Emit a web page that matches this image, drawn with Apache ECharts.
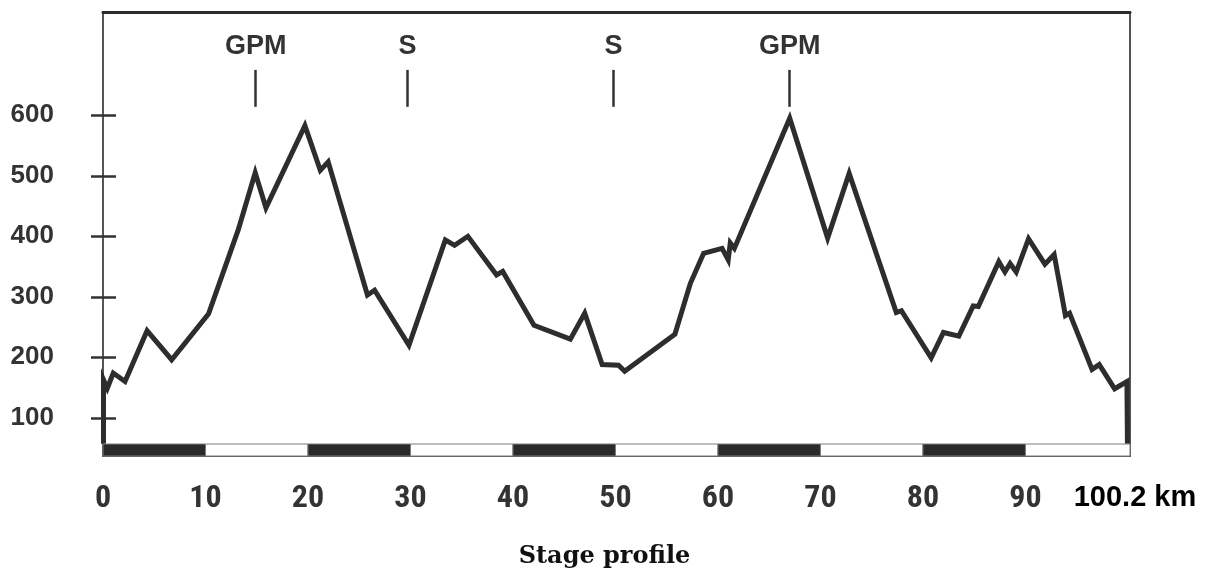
<!DOCTYPE html>
<html>
<head>
<meta charset="utf-8">
<script src="https://cdn.jsdelivr.net/npm/echarts@6/dist/echarts.min.js"></script>
<style>
html,body{margin:0;padding:0;background:#fff;}
#chart{width:1209px;height:576px;}
</style>
</head>
<body>
<div id="chart"></div>
<script>
// ---- data ----
const distanceKm = [0.05, 0.05, 0.42, 1.0, 2.15, 4.3, 6.7, 10.3, 13.2, 14.85, 15.9, 19.7, 21.2, 21.97,
  25.8, 26.5, 29.85, 33.4, 34.3, 35.6, 38.4, 39.0, 42.05, 45.6, 47.0, 48.7, 50.3, 50.9,
  55.8, 57.3, 58.6, 60.4, 61.0, 61.2, 61.6, 67.0, 70.7, 72.8, 77.4, 77.9,
  80.8, 82.0, 83.5, 84.9, 85.4, 87.4, 88.0, 88.5, 89.1, 90.3, 91.9, 92.8, 93.9, 94.3,
  96.5, 97.2, 98.7, 99.9, 99.95, 99.95];
const elevationM = [57, 163, 149, 174, 160, 244, 196, 272, 411, 505, 447, 583, 509, 523,
  303, 311, 220, 394, 385, 400, 336, 342, 253, 230, 273, 188, 187, 177,
  238, 322, 372, 380, 361, 389, 380, 595, 397, 504, 274, 277,
  199, 241, 235, 285, 284, 358, 341, 355, 341, 396, 354, 370, 269, 273,
  180, 188, 148, 160, 163, 57];
const xTickKm = [0, 10, 20, 30, 40, 50, 60, 70, 80, 90, 100.2];
const yTicks = [100, 200, 300, 400, 500, 600];
const bandEdgesKm = [0, 10, 20, 30, 40, 50, 60, 70, 80, 90, 100.2];
const markerKm = [14.9, 29.7, 49.8, 67.0];
const markerNames = ['GPM', 'S', 'S', 'GPM'];
const totalKm = 100.2;

// ---- layout / style constants ----
const yMin = 36.9, yMax = 770.7, barTop = 56.7;
const tickLow = 614, tickHigh = 675;

const profile = distanceKm.map((d, i) => [d, elevationM[i]]);
const bands = [];
for (let i = 0; i < bandEdgesKm.length - 1; i++) {
  const dark = i % 2 === 0;
  bands.push([
    { coord: [bandEdgesKm[i], yMin],
      itemStyle: { color: dark ? '#2a2a2a' : '#ffffff', borderColor: '#7a7a7a', borderWidth: 1, opacity: 1 } },
    { coord: [bandEdgesKm[i + 1], barTop] }
  ]);
}
const markers = markerKm.map((k, i) => [
  { coord: [k, tickLow], name: markerNames[i] },
  { coord: [k, tickHigh] }
]);

const chart = echarts.init(document.getElementById('chart'));
chart.setOption({
  animation: false,
  backgroundColor: '#fff',
  title: {
    text: 'Stage profile', left: 'center', top: 540,
    textStyle: { fontFamily: 'DejaVu Serif', fontWeight: 'bold', fontSize: 24, color: '#111' }
  },
  grid: { left: 103, right: 79, top: 12, bottom: 120, show: true, borderColor: '#555', borderWidth: 2, backgroundColor: 'transparent' },
  xAxis: [{
    type: 'value', position: 'bottom', min: 0, max: totalKm,
    axisLine: { show: false }, axisTick: { show: false }, splitLine: { show: false },
    axisLabel: {
      customValues: xTickKm, margin: 27,
      formatter: v => (Math.abs(v - totalKm) < 1e-6 ? '{e|' + v + ' km}' : '{n|' + v + '}'),
      rich: {
        n: { fontFamily: "'Roboto Condensed', 'Liberation Sans', sans-serif", fontWeight: 'bold', fontSize: 32, color: '#333' },
        e: { fontFamily: "'Liberation Sans', Arial, sans-serif", fontWeight: 'bold', fontSize: 29, color: '#000', padding: [0, 0, 0, 10] }
      }
    }
  }, {
    type: 'value', position: 'top', min: 0, max: totalKm,
    axisLine: { show: true, lineStyle: { color: '#2b2b2b', width: 3 } },
    axisTick: { show: false }, axisLabel: { show: false }, splitLine: { show: false }
  }],
  yAxis: [{
    type: 'value', position: 'left', min: yMin, max: yMax,
    axisLine: { show: true, lineStyle: { color: '#555', width: 2 } },
    axisTick: { show: true, customValues: yTicks, length: 12, lineStyle: { color: '#333', width: 2.5 } },
    splitLine: { show: false },
    axisLabel: { customValues: yTicks, margin: 49, fontFamily: "'Liberation Sans', Arial, sans-serif", fontWeight: 'bold', fontSize: 26, color: '#333' }
  }, {
    type: 'value', position: 'left', min: yMin, max: yMax,
    axisLine: { show: false },
    axisTick: { show: true, inside: true, customValues: yTicks, length: 13, lineStyle: { color: '#333', width: 2.5 } },
    axisLabel: { show: false }, splitLine: { show: false }
  }],
  series: [{
    type: 'line', data: profile, symbol: 'none', xAxisIndex: 0, yAxisIndex: 0,
    lineStyle: { color: '#2d2d2b', width: 5, join: 'miter', cap: 'butt' },
    z: 5,
    markArea: { silent: true, data: bands, z: 6 },
    markLine: {
      silent: true, symbol: ['none', 'none'], data: markers,
      lineStyle: { color: '#333', width: 2.5, type: 'solid' },
      label: { show: true, position: 'end', formatter: p => p.name, distance: 10,
        fontFamily: "'Liberation Sans', Arial, sans-serif", fontWeight: 'bold', fontSize: 27, color: '#333' }
    }
  }]
});
</script>
</body>
</html>
